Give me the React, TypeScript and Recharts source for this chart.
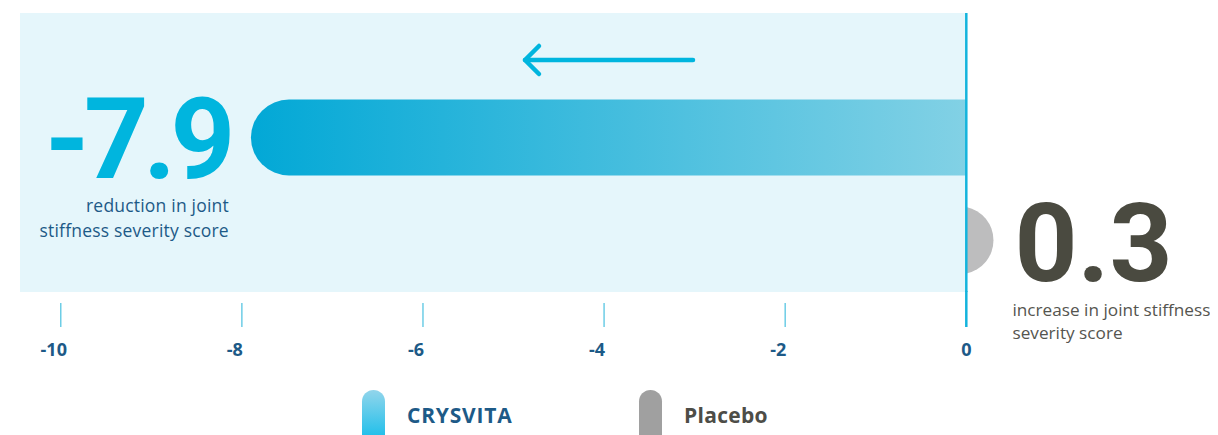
import React from "react";
import {
  BarChart,
  Bar,
  XAxis,
  YAxis,
  ReferenceArea,
  ReferenceLine,
  LabelList,
  Legend,
} from "recharts";

// ---------- data ----------
const categories = ["CRYSVITA", "Placebo"];
const values = [-7.9, 0.3];
const valueLabels = ["-7.9", "0.3"];
const descriptionLines = [
  ["reduction in joint", "stiffness severity score"],
  ["increase in joint stiffness", "severity score"],
];
const xTicks = [-10, -8, -6, -4, -2, 0];
const xDomain: [number, number] = [-10.45, 0.35];
const backgroundRange = [-10.45, 0];

const data = categories.map((name, i) => ({
  name,
  value: values[i],
  label: valueLabels[i],
}));

// ---------- styles ----------
const BLUE_DARK = "#1d5a87";
const BLUE_BRIGHT = "#00b5de";
const GREY_TEXT = "#4a4a40";
const BAR_THICKNESS: Record<string, number> = { CRYSVITA: 76, Placebo: 68 };
const FONT = "'Open Sans', 'Noto Sans', sans-serif";
const BIG_FONT = "Roboto, 'Open Sans', sans-serif";
const PLOT_TOP = 13;

const BarShape = (props: any) => {
  const { x, y, width, height, index } = props;
  const name = categories[index];
  const left = Math.min(x, x + width);
  const w = Math.abs(width);
  const right = left + w;
  const cy = y + height / 2;
  const h = BAR_THICKNESS[name];
  const r = h / 2;
  if (values[index] < 0) {
    const d = `M ${right} ${cy - r} H ${left + r} A ${r} ${r} 0 0 0 ${left + r} ${cy + r} H ${right} Z`;
    return <path d={d} fill="url(#crysGrad)" />;
  }
  const cx = right - r;
  const dx = left - cx;
  const dy = Math.sqrt(Math.max(r * r - dx * dx, 0));
  const d = `M ${left} ${cy - dy} A ${r} ${r} 0 0 1 ${left} ${cy + dy} Z`;
  return <path d={d} fill="#bdbdbe" />;
};

const BackgroundShape = (props: any) => {
  const { x, y, width, height } = props;
  const bottom = y + height;
  return <rect x={x} y={PLOT_TOP} width={width} height={bottom - PLOT_TOP} fill="#e5f6fb" />;
};

const ValueLabel = (props: any) => {
  const { x, y, width, height, index } = props;
  const left = Math.min(x, x + width);
  const right = left + Math.abs(width);
  const cy = y + height / 2;
  const lines = descriptionLines[index];
  if (values[index] < 0) {
    return (
      <g>
        <text
          x={left - 21}
          y={cy + 40}
          textAnchor="end"
          fontFamily={BIG_FONT}
          fontWeight={700}
          fontSize={113}
          letterSpacing={-5.5}
          fill={BLUE_BRIGHT}
        >
          {valueLabels[index]}
        </text>
        {lines.map((ln, i) => (
          <text
            key={i}
            x={left - 22}
            y={cy + 74 + i * 25}
            textAnchor="end"
            fontFamily={FONT}
            fontSize={17.5}
            letterSpacing={0.2}
            fill={BLUE_DARK}
          >
            {ln}
          </text>
        ))}
      </g>
    );
  }
  return (
    <g>
      <text
        x={right + 21}
        y={cy + 41}
        textAnchor="start"
        fontFamily={BIG_FONT}
        fontWeight={700}
        fontSize={110}
        fill={GREY_TEXT}
      >
        {valueLabels[index]}
      </text>
      {lines.map((ln, i) => (
        <text
          key={i}
          x={right + 19}
          y={cy + 76 + i * 23}
          textAnchor="start"
          fontFamily={FONT}
          fontSize={17.2}
          fill="#55554f"
        >
          {ln}
        </text>
      ))}
    </g>
  );
};

const XTick = (props: any) => {
  const { x, y, payload } = props;
  const v = payload.value;
  return (
    <g>
      {v === 0 ? (
        <line x1={x} x2={x} y1={y - 1} y2={y + 35} stroke="#14b4dd" strokeWidth={2.5} />
      ) : (
        <line x1={x} x2={x} y1={y + 11} y2={y + 35} stroke="#6dcde6" strokeWidth={1.5} />
      )}
      <text
        x={x + (v < 0 ? -7 : 0)}
        y={y + 64}
        textAnchor="middle"
        fontFamily={FONT}
        fontWeight={700}
        fontSize={18}
        fill={BLUE_DARK}
      >
        {String(v)}
      </text>
    </g>
  );
};

const LegendContent = () => (
  <div style={{ display: "flex", paddingLeft: 362, alignItems: "flex-start" }}>
    {categories.map((c, i) => (
      <div
        key={c}
        style={{ display: "flex", alignItems: "flex-start", width: i === 0 ? 277 : 200 }}
      >
        <div
          style={{
            width: 23,
            height: 60,
            borderRadius: 11.5,
            background: i === 0 ? "linear-gradient(#92d5eb, #00b9ea)" : "#a0a0a0",
          }}
        />
        <div
          style={{
            marginLeft: 22,
            marginTop: 12,
            fontFamily: FONT,
            fontWeight: 700,
            fontSize: 21,
            letterSpacing: i === 0 ? 0.8 : 0.3,
            lineHeight: "26px",
            color: i === 0 ? BLUE_DARK : "#4d4d47",
          }}
        >
          {c}
        </div>
      </div>
    ))}
  </div>
);

export default function App() {
  return (
    <div
      style={{
        position: "relative",
        width: 1218,
        height: 435,
        marginLeft: -8,
        marginTop: -8,
        overflow: "hidden",
        background: "#fff",
      }}
    >
      <BarChart
        width={1218}
        height={435}
        data={data}
        layout="vertical"
        margin={{ top: PLOT_TOP, right: 220, bottom: 103, left: 20 }}
      >
        <defs>
          <linearGradient id="crysGrad" x1="0" y1="0" x2="1" y2="0">
            <stop offset="0%" stopColor="#02a8d6" />
            <stop offset="100%" stopColor="#82d1e5" />
          </linearGradient>
        </defs>
        <XAxis
          type="number"
          dataKey="value"
          domain={xDomain}
          ticks={xTicks}
          allowDataOverflow
          axisLine={false}
          tickLine={false}
          tickSize={0}
          tickMargin={0}
          height={40}
          tick={<XTick />}
          interval={0}
        />
        <YAxis type="category" dataKey="name" hide padding={{ top: 73.5, bottom: 0 }} />
        <ReferenceArea
          x1={backgroundRange[0]}
          x2={backgroundRange[1]}
          shape={BackgroundShape}
          stroke="none"
        />
        <Bar dataKey="value" barSize={76} shape={BarShape} isAnimationActive={false}>
          <LabelList dataKey="label" content={ValueLabel} />
        </Bar>
        <ReferenceLine x={0} stroke="#14b4dd" strokeWidth={2.5} />
        <Legend
          layout="horizontal"
          verticalAlign="middle"
          align="center"
          content={LegendContent}
          wrapperStyle={{ position: "absolute", left: 0, top: 390, width: 1218, height: 60 }}
        />
      </BarChart>
      <svg
        style={{ position: "absolute", left: 0, top: 0, pointerEvents: "none" }}
        width={1218}
        height={435}
      >
        <g stroke={BLUE_BRIGHT} strokeWidth={4.5} strokeLinecap="round" strokeLinejoin="round" fill="none">
          <line x1={525} y1={60} x2={693} y2={60} />
          <polyline points="539,46 525,60 539,74" />
        </g>
      </svg>
    </div>
  );
}
